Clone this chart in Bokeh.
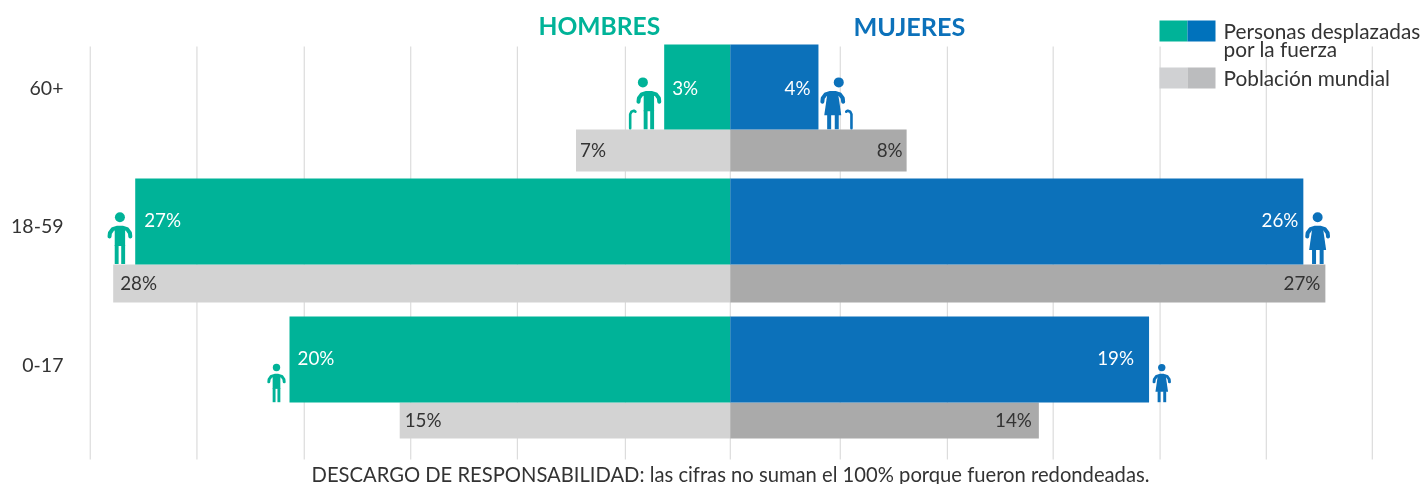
from bokeh.core.properties import value
from bokeh.embed import file_html
from bokeh.models import FixedTicker, LinearAxis, Range1d
from bokeh.plotting import figure
from bokeh.resources import INLINE

# ---- data ----
age_groups = ["60+", "18-59", "0-17"]
men_displaced = [3, 27, 20]
women_displaced = [4, 26, 19]
men_world = [7, 28, 15]
women_world = [8, 27, 14]
grid_ticks = [-29.04, -24.2, -19.33, -14.5, -9.66, -4.76, 0, 4.99, 9.85, 14.65, 19.5, 24.32, 29.13]
footer = "DESCARGO DE RESPONSABILIDAD: las cifras no suman el 100% porque fueron redondeadas."

# ---- layout and style ----
W, H = 1426, 484
CENTER = 729.8
PX = 22.04            # pixels per percentage point
LEFT = 66
FONT = "Lato"
GREEN, BLUE = "#00B398", "#0C71BA"
GREY_M, GREY_F = "#D3D3D3", "#AAAAAA"
DARK = "#333333"
ROW_LABEL_Y = [87, 225, 364]
TOP_BAR = [(44, 129), (178, 264), (316, 402)]
LOW_BAR = [(129, 171), (264, 302), (402, 438)]
TS = "18.8px"

def px(x):
    return (x - CENTER) / PX

p = figure(width=W, height=H, output_backend="svg", toolbar_location=None,
           x_range=Range1d(px(LEFT), px(W)), y_range=Range1d(H, 0),
           x_axis_type=None, y_axis_type=None,
           min_border_left=LEFT, min_border_right=0, min_border_top=0, min_border_bottom=0,
           outline_line_color=None)
p.styles = {"position": "fixed", "left": "0px", "top": "0px"}
p.grid.visible = False

yaxis = LinearAxis(ticker=FixedTicker(ticks=ROW_LABEL_Y),
                   major_label_overrides=dict(zip(ROW_LABEL_Y, age_groups)),
                   axis_line_color=None, major_tick_line_color=None, minor_tick_line_color=None,
                   major_tick_out=0, major_label_standoff=3,
                   major_label_text_font=FONT, major_label_text_font_size="19.5px",
                   major_label_text_color=DARK)
p.add_layout(yaxis, "left")

p.segment(x0=grid_ticks, x1=grid_ticks, y0=[46] * 13, y1=[459] * 13,
          line_color="#DCDCDC", line_width=1.2)

def bars(vals, spans, sign, color):
    p.quad(left=[min(0, sign * v) for v in vals], right=[max(0, sign * v) for v in vals],
           top=[s[0] for s in spans], bottom=[s[1] for s in spans],
           fill_color=color, line_color=None)

bars(men_world, LOW_BAR, -1, GREY_M)
bars(women_world, LOW_BAR, 1, GREY_F)
bars(men_displaced, TOP_BAR, -1, GREEN)
bars(women_displaced, TOP_BAR, 1, BLUE)

def labels(vals, ys, sign, pads, color):
    xs = [sign * (v - pd / PX) for v, pd in zip(vals, pads)]
    p.text(x=xs, y=ys, text=[f"{v}%" for v in vals], text_color=color,
           text_font=value(FONT), text_font_size=TS, text_baseline="middle",
           text_align="left" if sign < 0 else "right")

labels(men_displaced, [87, 219, 357], -1, [8, 9, 8], "#FFFFFF")
labels(women_displaced, [87, 219, 357], 1, [8, 5, 15], "#FFFFFF")
labels(men_world, [149, 282, 419], -1, [4, 7, 5], DARK)
labels(women_world, [149, 282, 419], 1, [4, 5, 7], DARK)

# ---- pictograms ----
ARMS = [(-10.4, -27.5), (-10, -31), (-7.2, -34.9), (-2.5, -36.3), (2.5, -36.3), (7.2, -34.9), (10, -31), (10.4, -27.5)]
CANE = [(18.7, -1), (18.7, -15), (17.5, -17.5), (15, -18.5), (13.5, -17.5)]

def icon(value_, bottom, sign, woman, color, gap, s=1.0, head_dx=0, cane=False):
    cx = CENTER + sign * (value_ * PX + gap)
    X = lambda dx: px(cx + dx * s)
    Y = lambda dy: bottom + dy * s
    if woman:
        polys = [[(-5.2, -37), (5.2, -37), (8.5, -14), (-8.5, -14)],
                 [(-5.6, -15), (-1.6, -15), (-1.6, 0), (-5.6, 0)],
                 [(2, -15), (6, -15), (6, 0), (2, 0)]]
    else:
        polys = [[(-5.2, -37), (5.2, -37), (5.2, -18), (-5.2, -18)],
                 [(-5.2, -19), (-1.3, -19), (-1.3, 0), (-5.2, 0)],
                 [(1.3, -19), (5.2, -19), (5.2, 0), (1.3, 0)]]
    p.patches(xs=[[X(a) for a, _ in q] for q in polys], ys=[[Y(b) for _, b in q] for q in polys],
              fill_color=color, line_color=None)
    p.multi_line(xs=[[X(a) for a, _ in ARMS]], ys=[[Y(b) for _, b in ARMS]],
                 line_color=color, line_width=4 * s, line_cap="round", line_join="round")
    p.scatter(x=[X(head_dx)], y=[Y(-46.8)], size=10 * s, marker="circle",
              fill_color=color, line_color=None)
    if cane:
        p.multi_line(xs=[[X(sign * a) for a, _ in CANE]], ys=[[Y(b) for _, b in CANE]],
                     line_color=color, line_width=2.6, line_cap="round", line_join="round")

icon(men_displaced[0], 128.7, -1, False, GREEN, 15.3, head_dx=-6, cane=True)
icon(women_displaced[0], 128.7, 1, True, BLUE, 14.3, head_dx=6, cane=True)
icon(men_displaced[1], 263.5, -1, False, GREEN, 15.3)
icon(women_displaced[1], 263.5, 1, True, BLUE, 14.3)
icon(men_displaced[2], 401.7, -1, False, GREEN, 13, s=0.74)
icon(women_displaced[2], 401.7, 1, True, BLUE, 12.7, s=0.74)

# ---- headers ----
p.text(x=[px(538)], y=[25], text=["HOMBRES"], text_color=GREEN, text_font=value(FONT),
       text_font_size="24.6px", text_font_style="bold", text_baseline="middle")
p.text(x=[px(853)], y=[25], text=["MUJERES"], text_color=BLUE, text_font=value(FONT),
       text_font_size="25.2px", text_font_style="bold", text_baseline="middle")

# ---- legend ----
p.quad(left=[px(1159), px(1187), px(1159), px(1187)], right=[px(1187), px(1215), px(1187), px(1215)],
       top=[20, 20, 67, 67], bottom=[41, 41, 88, 88],
       fill_color=[GREEN, "#0072BC", "#D0D1D3", "#BBBCBE"], line_color=None)
p.text(x=[px(1223)] * 3, y=[30, 48, 77], text=["Personas desplazadas", "por la fuerza", "Población mundial"],
       text_color=DARK, text_font=value(FONT), text_font_size="20.8px", text_baseline="middle")

# ---- footer ----
p.text(x=[px(730)], y=[473], text=[footer], text_color=DARK, text_align="center",
       text_font=value(FONT), text_font_size="20.2px", text_baseline="middle")

open("out.html", "w").write(file_html(p, INLINE))
